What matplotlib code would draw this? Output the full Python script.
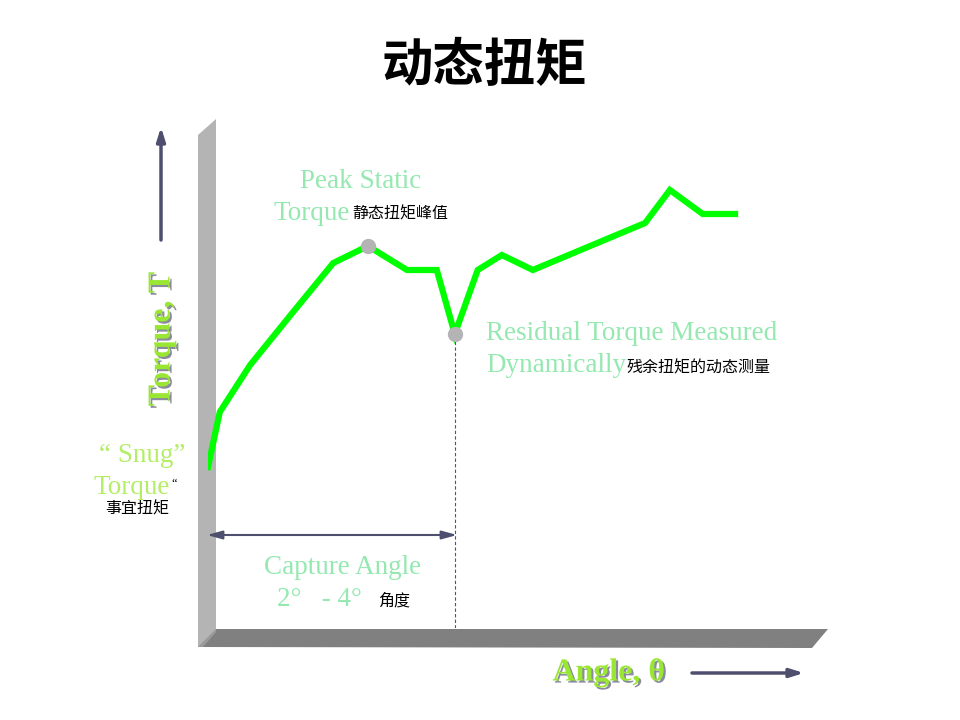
import matplotlib
matplotlib.use("Agg")
import matplotlib.pyplot as plt
from matplotlib.patches import Polygon
import matplotlib.patheffects as pe

# ---- data (arbitrary units) ----
angle = [0, 1.9, 6.8, 13.2, 20.2, 25.8, 32.1, 36.9, 39.8, 43.5, 47.4, 52.4, 70.5, 74.5, 79.8, 85.0]
torque = [32.2, 43.2, 52.6, 62.4, 73.0, 76.4, 71.6, 71.6, 58.8, 71.6, 74.6, 71.6, 81.0, 87.6, 82.8, 82.8]
peak_angle, peak_torque = 25.8, 76.4
resid_angle, resid_torque = 39.8, 58.8

title = "动态扭矩"
ylabel = "Torque, T"
xlabel = "Angle, θ"

W, H = 960, 720
fig = plt.figure(figsize=(9.6, 7.2), dpi=100)
fig.patch.set_facecolor("white")

# overlay axes in pixel coordinates for decorations
ov = fig.add_axes([0, 0, 1, 1])
ov.set_xlim(0, W)
ov.set_ylim(H, 0)
ov.axis("off")

serif = ["Liberation Serif", "DejaVu Serif"]
cjk = ["Noto Sans CJK SC", "DejaVu Sans"]

# 3D-looking axes wall and floor
ov.add_patch(Polygon([(198, 135), (216, 119), (216, 629), (198, 647)], closed=True,
                     facecolor="#b4b4b4", edgecolor="none", zorder=1))
ov.add_patch(Polygon([(198, 647), (216, 629), (828, 629), (812, 648)], closed=True,
                     facecolor="#808080", edgecolor="none", zorder=1))
ov.add_patch(Polygon([(198, 647), (216, 629), (216, 632), (203, 647)], closed=True,
                     facecolor="#9a9a9a", edgecolor="none", zorder=1))

arrow_col = "#4e4e6e"
# vertical arrow
ov.annotate("", xy=(161, 127), xytext=(161, 240),
            arrowprops=dict(arrowstyle="-|>,head_length=0.8,head_width=0.25", color=arrow_col, lw=2.5,
                            shrinkA=0, shrinkB=0))
# horizontal arrow
ov.annotate("", xy=(804, 673), xytext=(692, 673),
            arrowprops=dict(arrowstyle="-|>,head_length=0.8,head_width=0.25", color=arrow_col, lw=2.5,
                            shrinkA=0, shrinkB=0))
# capture double arrow
ov.annotate("", xy=(207, 535), xytext=(457, 535),
            arrowprops=dict(arrowstyle="<|-|>,head_length=0.9,head_width=0.25", color=arrow_col, lw=1.5,
                            shrinkA=0, shrinkB=0))

# title
ov.text(484, 65, title, fontsize=37, fontweight="bold", family=cjk, ha="center", va="center", color="black")

# axis labels with shadow
shadow = [pe.withSimplePatchShadow(offset=(1.5, -1.5), shadow_rgbFace="#8a8aa0", alpha=1.0)]
ov.text(162, 339, ylabel, fontsize=23, fontweight="bold", family=serif, rotation=90,
        ha="center", va="center", color="#99e633", path_effects=shadow)
ov.text(609, 673, xlabel, fontsize=23, fontweight="bold", family=serif,
        ha="center", va="center", color="#99e633", path_effects=shadow)

mint = "#94e8b0"
ygreen = "#b4ee66"
fs = 19.5
cfs = 11.5
# Peak static torque
ov.text(361, 182, "Peak Static", fontsize=fs, family=serif, ha="center", va="center", color=mint)
ov.text(274, 214, "Torque", fontsize=fs, family=serif, ha="left", va="center", color=mint)
ov.text(352, 214, "静态扭矩峰值", fontsize=cfs, family=cjk, ha="left", va="center", color="black")

# Residual torque
ov.text(486, 334, "Residual Torque Measured", fontsize=fs, family=serif, ha="left", va="center", color=mint)
ov.text(486, 366, "Dynamically", fontsize=fs, family=serif, ha="left", va="center", color=mint)
ov.text(626, 368, "残余扭矩的动态测量", fontsize=cfs, family=cjk, ha="left", va="center", color="black")

# Snug torque
ov.text(142, 455, "\u201c Snug\u201d", fontsize=fs, family=serif, ha="center", va="center", color=ygreen)
ov.text(94, 487, "Torque", fontsize=fs, family=serif, ha="left", va="center", color=ygreen)
ov.text(171, 484, "\u201c", fontsize=9, family=serif, ha="left", va="center", color="black")
ov.text(137, 509, "事宜扭矩", fontsize=cfs, family=cjk, ha="center", va="center", color="black")

# Capture angle
ov.text(343, 567, "Capture Angle", fontsize=fs, family=serif, ha="center", va="center", color=mint)
ov.text(277, 599, "2°   - 4°", fontsize=fs, family=serif, ha="left", va="center", color=mint)
ov.text(394, 601, "角度", fontsize=cfs, family=cjk, ha="center", va="center", color="black")

# data axes
ax = fig.add_axes([208 / W, 1 - 628 / H, 620 / W, 500 / H])
ax.set_xlim(0, 100)
ax.set_ylim(0, 100)
ax.axis("off")
ax.patch.set_alpha(0)

ax.plot(angle, torque, color="#00ff00", lw=4.5, solid_joinstyle="miter", zorder=3)
ax.plot([resid_angle, resid_angle], [0, resid_torque], color="#555555", lw=0.8,
        ls=(0, (3, 2)), zorder=2)
ax.plot([peak_angle, resid_angle], [peak_torque, resid_torque], ls="none", marker="o",
        markersize=10, color="#b4b4b4", zorder=4)

fig.savefig("out.png", dpi=100, facecolor="white")
